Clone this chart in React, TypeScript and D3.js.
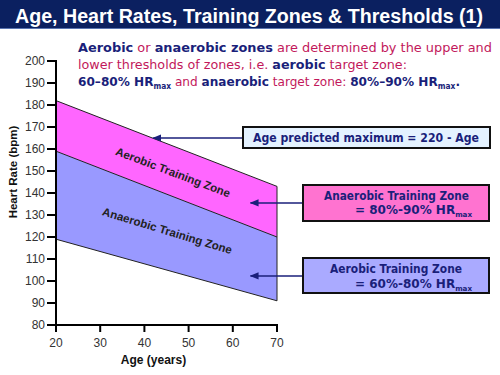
import React from "react";
import * as d3 from "d3";

const title = "Age, Heart Rates, Training Zones & Thresholds (1)";
const ages = [20, 70];
const maxHR = [182, 143];
const midHR = [159, 120];
const lowHR = [119, 91];
const yTicks = [80, 90, 100, 110, 120, 130, 140, 150, 160, 170, 180, 190, 200];
const xTicks = [20, 30, 40, 50, 60, 70];
const zoneLabels = ["Aerobic Training Zone", "Anaerobic Training Zone"];

const W = 500, H = 375;
const x = d3.scaleLinear().domain([20, 70]).range([56, 277]);
const y = d3.scaleLinear().domain([80, 200]).range([325, 61]);

const NAVY = "#1a1f7a";
const CRIM = "#c2185b";
const comic = "'Comic Sans MS', 'DejaVu Sans', sans-serif";
const arial = "'Liberation Sans', Arial, sans-serif";

function angleOf(a: number[]) {
  return (Math.atan2(y(a[1]) - y(a[0]), x(ages[1]) - x(ages[0])) * 180) / Math.PI;
}

export default function App() {
  const pts = ages.map((a, i) => ({ a, max: maxHR[i], mid: midHR[i], low: lowHR[i] }));
  const pinkArea = d3.area<any>().x((d) => x(d.a)).y0((d) => y(d.mid)).y1((d) => y(d.max))(pts)!;
  const blueArea = d3.area<any>().x((d) => x(d.a)).y0((d) => y(d.low)).y1((d) => y(d.mid))(pts)!;
  const line = d3.line<any>().x((d) => x(d.a)).y((d) => d.v);
  const outline = (key: string) =>
    line(pts.map((p: any) => ({ a: p.a, v: y(p[key]) })))!;

  const angA = angleOf(maxHR) - 0.5;
  const angB = (angleOf(midHR) + angleOf(lowHR)) / 2 - 1.5;

  const sub = (t: string) => (
    <>
      <tspan>{t}</tspan>
      <tspan fontSize="0.6em" dy="3">max</tspan>
    </>
  );

  return (
    <svg width={W} height={H} style={{ position: "absolute", left: 0, top: 0, background: "#fff" }}>
      <defs>
        <marker id="ah" viewBox="0 0 10 10" refX="9" refY="5" markerWidth="6" markerHeight="6" orient="auto">
          <path d="M0,1 L10,5 L0,9 z" fill={NAVY} />
        </marker>
      </defs>
      <rect x={0} y={0} width={W} height={H} fill="#fff" />
      {/* Title bar */}
      <rect x={0} y={0} width={W} height={28} fill="#0b2060" />
      <line x1={0} x2={W} y1={28.5} y2={28.5} stroke="#5a74b0" strokeWidth={1} />
      <text x={15} y={22.5} fill="#fff" fontFamily={arial} fontWeight="bold" fontSize={20} textLength={468} lengthAdjust="spacingAndGlyphs">
        {title}
      </text>

      {/* Intro text */}
      <g fontFamily={comic} fontSize={13}>
        <text x={78} y={52} textLength={414} lengthAdjust="spacingAndGlyphs">
          <tspan fill={NAVY} fontWeight="bold">Aerobic</tspan>
          <tspan fill={CRIM}> or </tspan>
          <tspan fill={NAVY} fontWeight="bold">anaerobic zones</tspan>
          <tspan fill={CRIM}> are determined by the upper and</tspan>
        </text>
        <text x={78} y={69} textLength={329} lengthAdjust="spacingAndGlyphs">
          <tspan fill={CRIM}>lower thresholds of zones, i.e. </tspan>
          <tspan fill={NAVY} fontWeight="bold">aerobic</tspan>
          <tspan fill={CRIM}> target zone:</tspan>
        </text>
        <text x={78} y={86} textLength={382} lengthAdjust="spacingAndGlyphs">
          <tspan fill={NAVY} fontWeight="bold">60–80% HR</tspan>
          <tspan fill={NAVY} fontWeight="bold" fontSize={8} dy={3}>max</tspan>
          <tspan fill={CRIM} dy={-3}> and </tspan>
          <tspan fill={NAVY} fontWeight="bold">anaerobic</tspan>
          <tspan fill={CRIM}> target zone: </tspan>
          <tspan fill={NAVY} fontWeight="bold">80%–90% HR</tspan>
          <tspan fill={NAVY} fontWeight="bold" fontSize={8} dy={3}>max</tspan>
          <tspan fill={NAVY} fontWeight="bold" dy={-3}>.</tspan>
        </text>
      </g>

      {/* Bands */}
      <path d={pinkArea} fill="#ff66ff" stroke="none" />
      <path d={blueArea} fill="#9999ff" stroke="none" />
      <path d={outline("max")} fill="none" stroke="#222" strokeWidth={1} />
      <path d={outline("mid")} fill="none" stroke="#222" strokeWidth={1} />
      <path d={outline("low")} fill="none" stroke="#222" strokeWidth={1} />
      <line x1={x(70)} x2={x(70)} y1={y(maxHR[1])} y2={y(lowHR[1])} stroke="#222" strokeWidth={1} />

      {/* Zone labels */}
      <text
        transform={`translate(${x(46.4)},${y(149)}) rotate(${angA})`}
        textAnchor="middle"
        dominantBaseline="middle"
        fontFamily={arial}
        fontWeight="bold"
        fontSize={11.5}
        fill="#222"
      >
        {zoneLabels[0]}
      </text>
      <text
        transform={`translate(${x(45.1)},${y(122.4)}) rotate(${angB})`}
        textAnchor="middle"
        dominantBaseline="middle"
        fontFamily={arial}
        fontWeight="bold"
        fontSize={11.5}
        fill="#222"
      >
        {zoneLabels[1]}
      </text>

      {/* Axes */}
      <g fontFamily={arial} fontSize={12} fill="#333">
        {yTicks.map((t) => (
          <g key={"y" + t}>
            <line x1={x(20) - 9} x2={x(20)} y1={y(t)} y2={y(t)} stroke="#000" strokeWidth={2} />
            <text x={x(20) - 11} y={y(t)} textAnchor="end" dominantBaseline="central">
              {t}
            </text>
          </g>
        ))}
        {xTicks.map((t) => (
          <g key={"x" + t}>
            <line x1={x(t)} x2={x(t)} y1={y(80)} y2={y(80) + 7} stroke="#000" strokeWidth={2} />
            <text x={x(t)} y={y(80) + 18} textAnchor="middle" dominantBaseline="central">
              {t}
            </text>
          </g>
        ))}
      </g>
      <line x1={x(20)} x2={x(20)} y1={y(200) - 1} y2={y(80) + 1} stroke="#000" strokeWidth={2} />
      <line x1={x(20) - 1} x2={x(70) + 1} y1={y(80)} y2={y(80)} stroke="#000" strokeWidth={2} />
      <text
        transform={`translate(13,172) rotate(-90)`}
        textAnchor="middle"
        dominantBaseline="central"
        fontFamily={arial}
        fontWeight="bold"
        fontSize={11.5}
        fill="#111"
      >
        Heart Rate (bpm)
      </text>
      <text x={153.5} y={364} textAnchor="middle" fontFamily={arial} fontWeight="bold" fontSize={12} fill="#111">
        Age (years)
      </text>

      {/* Annotation boxes */}
      <line x1={243} x2={x(42)} y1={y(165)} y2={y(165)} stroke={NAVY} strokeWidth={1.5} markerEnd="url(#ah)" />
      <rect x={243} y={127} width={247} height={21} fill="#e4f2ff" stroke="#111" strokeWidth={2} />
      <text x={253} y={142} fontFamily={comic} fontWeight="bold" fontSize={12} fill={NAVY} textLength={226} lengthAdjust="spacingAndGlyphs">
        Age predicted maximum = 220 - Age
      </text>

      <line x1={303} x2={x(64)} y1={y(135.5)} y2={y(135.5)} stroke={NAVY} strokeWidth={1.5} markerEnd="url(#ah)" />
      <rect x={303} y={185} width={186} height={36} fill="#ff73d0" stroke="#111" strokeWidth={2} />
      <g fontFamily={comic} fontWeight="bold" fontSize={12} fill={NAVY}>
        <text x={324} y={200} textLength={145} lengthAdjust="spacingAndGlyphs">Anaerobic Training Zone</text>
        <text x={355} y={214}>
          {sub("= 80%-90% HR")}
        </text>
      </g>

      <line x1={303} x2={x(64)} y1={y(102.3)} y2={y(102.3)} stroke={NAVY} strokeWidth={1.5} markerEnd="url(#ah)" />
      <rect x={303} y={258} width={186} height={35} fill="#aaaaff" stroke="#111" strokeWidth={2} />
      <g fontFamily={comic} fontWeight="bold" fontSize={12} fill={NAVY}>
        <text x={330} y={273} textLength={132} lengthAdjust="spacingAndGlyphs">Aerobic Training Zone</text>
        <text x={355} y={288}>
          {sub("= 60%-80% HR")}
        </text>
      </g>
    </svg>
  );
}
